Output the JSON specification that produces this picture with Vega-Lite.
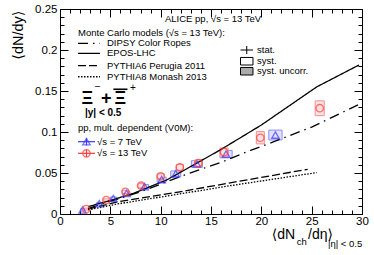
{
  "$schema": "https://vega.github.io/schema/vega-lite/v6.json",
  "width": 302,
  "height": 205,
  "autosize": {"type": "none"},
  "padding": {"left": 60, "top": 9, "right": 12, "bottom": 41},
  "background": "white",
  "config": {
    "view": {"stroke": "black", "strokeWidth": 1},
    "axis": {"domain": false, "grid": false, "labelFont": "Liberation Sans", "labelFontSize": 11.5, "labelColor": "black", "tickColor": "black", "tickWidth": 1, "labelFlush": false, "labelOverlap": false}
  },
  "datasets": {
    "models": [
      {"model": "DIPSY", "x": 2.8, "y": 0.007}, {"model": "DIPSY", "x": 8, "y": 0.027}, {"model": "DIPSY", "x": 11.9, "y": 0.0455}, {"model": "DIPSY", "x": 16.2, "y": 0.064}, {"model": "DIPSY", "x": 19, "y": 0.078}, {"model": "DIPSY", "x": 21, "y": 0.087}, {"model": "DIPSY", "x": 25, "y": 0.106}, {"model": "DIPSY", "x": 29.6, "y": 0.133},
      {"model": "EPOS", "x": 2.8, "y": 0.009}, {"model": "EPOS", "x": 5, "y": 0.0165}, {"model": "EPOS", "x": 7.3, "y": 0.0252}, {"model": "EPOS", "x": 10.6, "y": 0.0415}, {"model": "EPOS", "x": 13, "y": 0.058}, {"model": "EPOS", "x": 15.9, "y": 0.078}, {"model": "EPOS", "x": 20, "y": 0.1085}, {"model": "EPOS", "x": 25.5, "y": 0.155}, {"model": "EPOS", "x": 29.7, "y": 0.1817},
      {"model": "Perugia", "x": 2.8, "y": 0.006}, {"model": "Perugia", "x": 5.6, "y": 0.0145}, {"model": "Perugia", "x": 11.9, "y": 0.027}, {"model": "Perugia", "x": 16.9, "y": 0.038}, {"model": "Perugia", "x": 24.6, "y": 0.0545},
      {"model": "Monash", "x": 2.8, "y": 0.005}, {"model": "Monash", "x": 5.6, "y": 0.012}, {"model": "Monash", "x": 11.9, "y": 0.0245}, {"model": "Monash", "x": 16.9, "y": 0.0345}, {"model": "Monash", "x": 25.5, "y": 0.0505}
    ],
    "pts": [
      {"series": "7 TeV", "x": 2.25, "y": 0.005, "xlo": 2.05, "xhi": 2.45, "ylo": 0.0035, "yhi": 0.0065},
      {"series": "7 TeV", "x": 3.9, "y": 0.0125, "xlo": 3.65, "xhi": 4.15, "ylo": 0.011, "yhi": 0.014},
      {"series": "7 TeV", "x": 5.3, "y": 0.019, "xlo": 5.0, "xhi": 5.6, "ylo": 0.0172, "yhi": 0.0208},
      {"series": "7 TeV", "x": 6.6, "y": 0.025, "xlo": 6.25, "xhi": 6.95, "ylo": 0.0228, "yhi": 0.0272},
      {"series": "7 TeV", "x": 8.4, "y": 0.0335, "xlo": 8.0, "xhi": 8.8, "ylo": 0.031, "yhi": 0.036},
      {"series": "7 TeV", "x": 10.1, "y": 0.042, "xlo": 9.65, "xhi": 10.55, "ylo": 0.039, "yhi": 0.045},
      {"series": "7 TeV", "x": 11.5, "y": 0.049, "xlo": 11.0, "xhi": 12.0, "ylo": 0.0455, "yhi": 0.0525},
      {"series": "7 TeV", "x": 13.6, "y": 0.061, "xlo": 13.05, "xhi": 14.15, "ylo": 0.057, "yhi": 0.065},
      {"series": "7 TeV", "x": 16.5, "y": 0.073, "xlo": 15.9, "xhi": 17.1, "ylo": 0.0685, "yhi": 0.0775},
      {"series": "7 TeV", "x": 21.4, "y": 0.0963, "xlo": 20.74, "xhi": 22.06, "ylo": 0.0903, "yhi": 0.1023},
      {"series": "13 TeV", "x": 2.6, "y": 0.006, "xlo": 2.4, "xhi": 2.8, "ylo": 0.0048, "yhi": 0.0072},
      {"series": "13 TeV", "x": 4.6, "y": 0.017, "xlo": 4.35, "xhi": 4.85, "ylo": 0.0155, "yhi": 0.0185},
      {"series": "13 TeV", "x": 6.5, "y": 0.027, "xlo": 6.2, "xhi": 6.8, "ylo": 0.025, "yhi": 0.029},
      {"series": "13 TeV", "x": 8.05, "y": 0.0345, "xlo": 7.75, "xhi": 8.35, "ylo": 0.032, "yhi": 0.037},
      {"series": "13 TeV", "x": 10.0, "y": 0.046, "xlo": 9.65, "xhi": 10.35, "ylo": 0.043, "yhi": 0.049},
      {"series": "13 TeV", "x": 11.9, "y": 0.057, "xlo": 11.55, "xhi": 12.25, "ylo": 0.0535, "yhi": 0.0605},
      {"series": "13 TeV", "x": 13.75, "y": 0.062, "xlo": 13.4, "xhi": 14.1, "ylo": 0.058, "yhi": 0.066},
      {"series": "13 TeV", "x": 16.3, "y": 0.0755, "xlo": 15.9, "xhi": 16.7, "ylo": 0.0705, "yhi": 0.0805},
      {"series": "13 TeV", "x": 19.9, "y": 0.093, "xlo": 19.5, "xhi": 20.3, "ylo": 0.0855, "yhi": 0.1005},
      {"series": "13 TeV", "x": 25.8, "y": 0.129, "xlo": 25.35, "xhi": 26.25, "ylo": 0.12, "yhi": 0.138}
    ],
    "legendLines": [
      {"model": "DIPSY", "x": 1.79, "x2": 3.97, "y": 0.2082},
      {"model": "EPOS", "x": 1.79, "x2": 3.97, "y": 0.196},
      {"model": "Perugia", "x": 1.79, "x2": 3.97, "y": 0.1809},
      {"model": "Monash", "x": 1.79, "x2": 3.97, "y": 0.1674}
    ],
    "legendSeriesRules": [
      {"series": "7 TeV", "x": 1.79, "x2": 3.48, "y": 0.0882, "y2": 0.0882},
      {"series": "7 TeV", "x": 2.63, "x2": 2.63, "y": 0.0837, "y2": 0.0927},
      {"series": "13 TeV", "x": 1.79, "x2": 3.48, "y": 0.074, "y2": 0.074},
      {"series": "13 TeV", "x": 2.63, "x2": 2.63, "y": 0.0695, "y2": 0.0785}
    ],
    "legendSeriesPts": [
      {"series": "7 TeV", "x": 2.63, "y": 0.0882},
      {"series": "13 TeV", "x": 2.63, "y": 0.074}
    ],
    "statRules": [
      {"x": 17.93, "x2": 19.17, "y": 0.2, "y2": 0.2},
      {"x": 18.55, "x2": 18.55, "y": 0.1951, "y2": 0.2049}
    ],
    "statBoxes": [
      {"kind": "syst", "x": 17.93, "x2": 19.17, "y": 0.1817, "y2": 0.1909},
      {"kind": "uncorr", "x": 17.93, "x2": 19.17, "y": 0.1695, "y2": 0.1787}
    ],
    "labels": [
      {"x": 10.43, "y": 0.2378, "text": "ALICE pp, √s = 13 TeV"},
      {"x": 1.79, "y": 0.2204, "text": "Monte Carlo models (√s = 13 TeV):"},
      {"x": 4.67, "y": 0.2082, "text": "DIPSY Color Ropes"},
      {"x": 4.67, "y": 0.196, "text": "EPOS-LHC"},
      {"x": 4.67, "y": 0.1809, "text": "PYTHIA6 Perugia 2011"},
      {"x": 4.67, "y": 0.1674, "text": "PYTHIA8 Monash 2013"},
      {"x": 1.79, "y": 0.1049, "text": "pp, mult. dependent (V0M):"},
      {"x": 3.68, "y": 0.0882, "text": "√s = 7 TeV"},
      {"x": 3.68, "y": 0.074, "text": "√s = 13 TeV"},
      {"x": 19.57, "y": 0.2, "text": "stat."},
      {"x": 19.57, "y": 0.1866, "text": "syst."},
      {"x": 19.57, "y": 0.174, "text": "syst. uncorr."}
    ],
    "xiBig": [
      {"x": 2.7, "y": 0.1398, "text": "Ξ"},
      {"x": 4.6, "y": 0.1398, "text": "+"},
      {"x": 6.0, "y": 0.1398, "text": "Ξ"}
    ],
    "xiSup": [
      {"x": 3.75, "y": 0.1545, "text": "−"},
      {"x": 7.25, "y": 0.1535, "text": "+"}
    ],
    "xiBar": [
      {"x": 5.3, "x2": 6.7, "y": 0.1521}
    ],
    "rapidity": [
      {"x": 2.48, "y": 0.1228, "text": "|y| < 0.5"}
    ],
    "xTitleBig": [
      {"x": 21.03, "y": -0.0256, "text": "⟨dN"},
      {"x": 24.64, "y": -0.0256, "text": "/dη⟩"}
    ],
    "xTitleSmall": [
      {"x": 23.51, "y": -0.0338, "text": "ch"},
      {"x": 26.62, "y": -0.037, "text": "|η| < 0.5"}
    ]
  },
  "layer": [
    {
      "data": {"name": "pts"},
      "mark": {"type": "rect", "strokeWidth": 1},
      "encoding": {
        "x": {"field": "xlo", "type": "quantitative", "scale": {"domain": [0, 30], "nice": false, "zero": false}, "axis": {"orient": "top", "values": [0, 5, 10, 15, 20, 25, 30], "tickSize": -8, "labels": false, "title": null}},
        "x2": {"field": "xhi"},
        "y": {"field": "ylo", "type": "quantitative", "scale": {"domain": [0, 0.25], "nice": false, "zero": false}, "axis": {"orient": "right", "values": [0, 0.05, 0.1, 0.15, 0.2, 0.25], "tickSize": -8, "labels": false, "title": null}},
        "y2": {"field": "yhi"},
        "stroke": {"field": "series", "type": "nominal", "scale": {"domain": ["7 TeV", "13 TeV"], "range": ["#8c8cff", "#ff8c8c"]}, "legend": null},
        "fill": {"field": "series", "type": "nominal", "scale": {"domain": ["7 TeV", "13 TeV"], "range": ["#e2e2ff", "#ffe2e2"]}, "legend": null}
      }
    },
    {
      "data": {"name": "models"},
      "mark": {"type": "line", "color": "black", "strokeWidth": 1.3},
      "encoding": {
        "x": {"field": "x", "type": "quantitative", "scale": {"domain": [0, 30], "nice": false, "zero": false}, "axis": {"orient": "bottom", "values": [0, 5, 10, 15, 20, 25, 30], "tickSize": -8, "labelPadding": 9, "title": null}},
        "y": {"field": "y", "type": "quantitative", "scale": {"domain": [0, 0.25], "nice": false, "zero": false}, "axis": {"orient": "left", "values": [0, 0.05, 0.1, 0.15, 0.2, 0.25], "format": "~g", "tickSize": -8, "labelPadding": 11, "title": "⟨dN/dy⟩", "titleFont": "Liberation Sans, DejaVu Sans", "titleFontSize": 14.5, "titleFontWeight": "normal", "titleColor": "black", "titleAngle": 270, "titleX": -42, "titleY": 1, "titleAlign": "right", "titleBaseline": "middle"}},
        "strokeDash": {"field": "model", "type": "nominal", "scale": {"domain": ["DIPSY", "EPOS", "Perugia", "Monash"], "range": [[10, 5, 1.5, 5], [1, 0], [8, 3], [1.5, 1.5]]}, "legend": null}
      }
    },
    {
      "data": {"name": "pts"},
      "mark": {"type": "point", "filled": false, "strokeWidth": 1.3, "size": 55},
      "encoding": {
        "x": {"field": "x", "type": "quantitative", "scale": {"domain": [0, 30], "nice": false, "zero": false}, "axis": {"orient": "bottom", "values": [1, 2, 3, 4, 6, 7, 8, 9, 11, 12, 13, 14, 16, 17, 18, 19, 21, 22, 23, 24, 26, 27, 28, 29], "tickSize": -4, "labels": false, "title": null}},
        "y": {"field": "y", "type": "quantitative", "scale": {"domain": [0, 0.25], "nice": false, "zero": false}, "axis": {"orient": "left", "values": [0.01, 0.02, 0.03, 0.04, 0.06, 0.07, 0.08, 0.09, 0.11, 0.12, 0.13, 0.14, 0.16, 0.17, 0.18, 0.19, 0.21, 0.22, 0.23, 0.24], "tickSize": -4, "labels": false, "title": null}},
        "shape": {"field": "series", "type": "nominal", "scale": {"domain": ["7 TeV", "13 TeV"], "range": ["triangle-up", "circle"]}, "legend": null},
        "stroke": {"field": "series", "type": "nominal", "scale": {"domain": ["7 TeV", "13 TeV"], "range": ["#3838ff", "#ff3838"]}, "legend": null}
      }
    },
    {
      "data": {"name": "labels"},
      "mark": {"type": "text", "align": "left", "baseline": "middle", "font": "Liberation Sans", "fontSize": 9.5, "color": "black"},
      "encoding": {
        "x": {"field": "x", "type": "quantitative", "scale": {"domain": [0, 30], "nice": false, "zero": false}, "axis": {"orient": "top", "values": [1, 2, 3, 4, 6, 7, 8, 9, 11, 12, 13, 14, 16, 17, 18, 19, 21, 22, 23, 24, 26, 27, 28, 29], "tickSize": -4, "labels": false, "title": null}},
        "y": {"field": "y", "type": "quantitative", "scale": {"domain": [0, 0.25], "nice": false, "zero": false}, "axis": {"orient": "right", "values": [0.01, 0.02, 0.03, 0.04, 0.06, 0.07, 0.08, 0.09, 0.11, 0.12, 0.13, 0.14, 0.16, 0.17, 0.18, 0.19, 0.21, 0.22, 0.23, 0.24], "tickSize": -4, "labels": false, "title": null}},
        "text": {"field": "text"}
      }
    },
    {
      "data": {"name": "legendLines"},
      "mark": {"type": "rule", "color": "black", "strokeWidth": 1.3},
      "encoding": {
        "x": {"field": "x", "type": "quantitative", "scale": {"domain": [0, 30], "nice": false, "zero": false}, "axis": null},
        "x2": {"field": "x2"},
        "y": {"field": "y", "type": "quantitative", "scale": {"domain": [0, 0.25], "nice": false, "zero": false}, "axis": null},
        "strokeDash": {"field": "model", "type": "nominal", "scale": {"domain": ["DIPSY", "EPOS", "Perugia", "Monash"], "range": [[10, 5, 1.5, 5], [1, 0], [8, 3], [1.5, 1.5]]}, "legend": null}
      }
    },
    {
      "data": {"name": "legendSeriesRules"},
      "mark": {"type": "rule", "strokeWidth": 1.2},
      "encoding": {
        "x": {"field": "x", "type": "quantitative", "scale": {"domain": [0, 30], "nice": false, "zero": false}, "axis": null},
        "x2": {"field": "x2"},
        "y": {"field": "y", "type": "quantitative", "scale": {"domain": [0, 0.25], "nice": false, "zero": false}, "axis": null},
        "y2": {"field": "y2"},
        "stroke": {"field": "series", "type": "nominal", "scale": {"domain": ["7 TeV", "13 TeV"], "range": ["#3838ff", "#ff3838"]}, "legend": null}
      }
    },
    {
      "data": {"name": "legendSeriesPts"},
      "mark": {"type": "point", "filled": false, "strokeWidth": 1.3, "size": 55},
      "encoding": {
        "x": {"field": "x", "type": "quantitative", "scale": {"domain": [0, 30], "nice": false, "zero": false}, "axis": null},
        "y": {"field": "y", "type": "quantitative", "scale": {"domain": [0, 0.25], "nice": false, "zero": false}, "axis": null},
        "shape": {"field": "series", "type": "nominal", "scale": {"domain": ["7 TeV", "13 TeV"], "range": ["triangle-up", "circle"]}, "legend": null},
        "stroke": {"field": "series", "type": "nominal", "scale": {"domain": ["7 TeV", "13 TeV"], "range": ["#3838ff", "#ff3838"]}, "legend": null}
      }
    },
    {
      "data": {"name": "statRules"},
      "mark": {"type": "rule", "color": "black", "strokeWidth": 1},
      "encoding": {
        "x": {"field": "x", "type": "quantitative", "scale": {"domain": [0, 30], "nice": false, "zero": false}, "axis": null},
        "x2": {"field": "x2"},
        "y": {"field": "y", "type": "quantitative", "scale": {"domain": [0, 0.25], "nice": false, "zero": false}, "axis": null},
        "y2": {"field": "y2"}
      }
    },
    {
      "data": {"name": "statBoxes"},
      "mark": {"type": "rect", "stroke": "black", "strokeWidth": 1},
      "encoding": {
        "x": {"field": "x", "type": "quantitative", "scale": {"domain": [0, 30], "nice": false, "zero": false}, "axis": null},
        "x2": {"field": "x2"},
        "y": {"field": "y", "type": "quantitative", "scale": {"domain": [0, 0.25], "nice": false, "zero": false}, "axis": null},
        "y2": {"field": "y2"},
        "fill": {"field": "kind", "type": "nominal", "scale": {"domain": ["syst", "uncorr"], "range": ["#ffffff", "#ababab"]}, "legend": null}
      }
    },
    {
      "data": {"name": "xiBig"},
      "mark": {"type": "text", "align": "center", "baseline": "middle", "font": "Liberation Sans", "fontSize": 18, "fontWeight": "bold", "color": "black"},
      "encoding": {
        "x": {"field": "x", "type": "quantitative", "scale": {"domain": [0, 30], "nice": false, "zero": false}, "axis": null},
        "y": {"field": "y", "type": "quantitative", "scale": {"domain": [0, 0.25], "nice": false, "zero": false}, "axis": null},
        "text": {"field": "text"}
      }
    },
    {
      "data": {"name": "xiSup"},
      "mark": {"type": "text", "align": "center", "baseline": "middle", "font": "Liberation Sans", "fontSize": 10, "color": "black"},
      "encoding": {
        "x": {"field": "x", "type": "quantitative", "scale": {"domain": [0, 30], "nice": false, "zero": false}, "axis": null},
        "y": {"field": "y", "type": "quantitative", "scale": {"domain": [0, 0.25], "nice": false, "zero": false}, "axis": null},
        "text": {"field": "text"}
      }
    },
    {
      "data": {"name": "xiBar"},
      "mark": {"type": "rule", "color": "black", "strokeWidth": 1.6},
      "encoding": {
        "x": {"field": "x", "type": "quantitative", "scale": {"domain": [0, 30], "nice": false, "zero": false}, "axis": null},
        "x2": {"field": "x2"},
        "y": {"field": "y", "type": "quantitative", "scale": {"domain": [0, 0.25], "nice": false, "zero": false}, "axis": null}
      }
    },
    {
      "data": {"name": "rapidity"},
      "mark": {"type": "text", "align": "left", "baseline": "middle", "font": "Liberation Sans", "fontSize": 10, "fontWeight": "bold", "color": "black"},
      "encoding": {
        "x": {"field": "x", "type": "quantitative", "scale": {"domain": [0, 30], "nice": false, "zero": false}, "axis": null},
        "y": {"field": "y", "type": "quantitative", "scale": {"domain": [0, 0.25], "nice": false, "zero": false}, "axis": null},
        "text": {"field": "text"}
      }
    },
    {
      "data": {"name": "xTitleBig"},
      "mark": {"type": "text", "align": "left", "baseline": "middle", "font": "Liberation Sans, DejaVu Sans", "fontSize": 14, "color": "black"},
      "encoding": {
        "x": {"field": "x", "type": "quantitative", "scale": {"domain": [0, 30], "nice": false, "zero": false}, "axis": null},
        "y": {"field": "y", "type": "quantitative", "scale": {"domain": [0, 0.25], "nice": false, "zero": false}, "axis": null},
        "text": {"field": "text"}
      }
    },
    {
      "data": {"name": "xTitleSmall"},
      "mark": {"type": "text", "align": "left", "baseline": "middle", "font": "Liberation Sans, DejaVu Sans", "fontSize": 9.5, "color": "black"},
      "encoding": {
        "x": {"field": "x", "type": "quantitative", "scale": {"domain": [0, 30], "nice": false, "zero": false}, "axis": null},
        "y": {"field": "y", "type": "quantitative", "scale": {"domain": [0, 0.25], "nice": false, "zero": false}, "axis": null},
        "text": {"field": "text"}
      }
    }
  ],
  "resolve": {
    "axis": {"x": "independent", "y": "independent"},
    "scale": {"stroke": "independent", "fill": "independent"}
  }
}
